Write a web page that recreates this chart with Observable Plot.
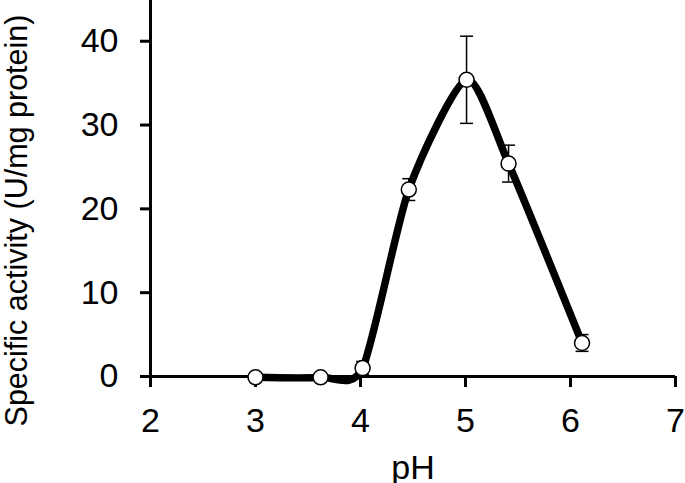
<!DOCTYPE html>
<html>
<head>
<meta charset="utf-8">
<script src="https://cdn.jsdelivr.net/npm/d3@7"></script>
<script src="https://cdn.jsdelivr.net/npm/@observablehq/plot@0.6"></script>
<style>
  html, body { margin: 0; padding: 0; background: #fff; }
</style>
</head>
<body>
<div id="chart"></div>
<script>
// Data
const pH       = [3.0, 3.62, 4.02, 4.46, 5.01, 5.41, 6.11];
const activity = [-0.1, -0.1, 1.0, 22.3, 35.4, 25.4, 4.0];
const errorSD  = [0, 0, 0.8, 1.3, 5.2, 2.2, 1.0];

const xTicks = [2, 3, 4, 5, 6, 7];
const yTicks = [0, 10, 20, 30, 40];
const xLabel = "pH";
const yLabel = "Specific activity (U/mg protein)";

const data = pH.map((p, i) => ({pH: p, act: activity[i], sd: errorSD[i]}));
const errData = data.filter(d => d.sd > 0);
const caps = errData.flatMap(d => [{pH: d.pH, v: d.act + d.sd}, {pH: d.pH, v: d.act - d.sd}]);

// horizontal cap symbol for error bars
const capSymbol = {
  draw(ctx, size) {
    const w = Math.sqrt(size / Math.PI);
    ctx.moveTo(-w, 0);
    ctx.lineTo(w, 0);
  }
};

const font = "'Liberation Sans', Arial, sans-serif";

const chart = Plot.plot({
  width: 685,
  height: 483,
  marginLeft: 150,
  marginRight: 10,
  marginTop: 0,
  marginBottom: 107,
  style: {fontFamily: font, background: "#fff", color: "#000"},
  x: {domain: [2, 7]},
  y: {domain: [0, 44.86]},
  marks: [
    Plot.axisX({ticks: xTicks, tickFormat: "d", tickSize: 11, tickPadding: 20, strokeWidth: 3, fontSize: 34,
      label: xLabel, labelAnchor: "center", labelOffset: 102, labelArrow: "none"}),
    Plot.axisY({ticks: yTicks, tickFormat: "d", tickSize: 10, tickPadding: 22, strokeWidth: 3, fontSize: 34, label: null}),
    Plot.ruleY([0], {strokeWidth: 3}),
    Plot.ruleX([2], {strokeWidth: 3}),
    Plot.text([yLabel], {frameAnchor: "left", rotate: -90, dx: -133, dy: 32,
      fontSize: 30.5, textAnchor: "middle", lineAnchor: "middle", fill: "#000"}),
    Plot.line(data, {x: "pH", y: "act", curve: "cardinal", tension: 0.3, stroke: "#000", strokeWidth: 7.5}),
    Plot.ruleX(errData, {x: "pH", y1: d => d.act - d.sd, y2: d => d.act + d.sd, stroke: "#000", strokeWidth: 1.5}),
    Plot.dot(caps, {x: "pH", y: "v", symbol: capSymbol, r: 6.5, stroke: "#000", fill: "none", strokeWidth: 1.5}),
    Plot.dot(data, {x: "pH", y: "act", r: 7.5, fill: "#fff", stroke: "#000", strokeWidth: 1.5})
  ]
});
document.getElementById("chart").append(chart);
</script>
</body>
</html>
